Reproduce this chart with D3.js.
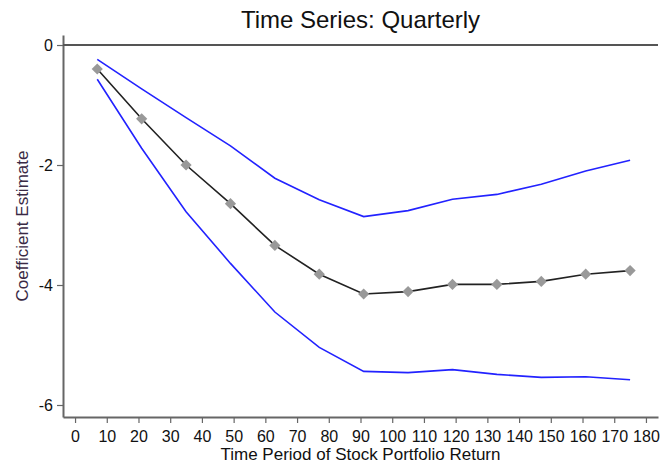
<!DOCTYPE html>
<html>
<head>
<meta charset="utf-8">
<script src="https://cdn.jsdelivr.net/npm/d3@7"></script>
<style>
  body { margin: 0; background: #fff; }
  text { font-family: "Liberation Sans", Arial, sans-serif; }
</style>
</head>
<body>
<div id="chart"></div>
<script>
// horizon in months, estimate and 95% bands
var periods = [7, 21, 35, 49, 63, 77, 91, 105, 119, 133, 147, 161, 175];
var estimate = [-0.40, -1.23, -2.00, -2.645, -3.34, -3.82, -4.15, -4.11, -3.99, -3.99, -3.94, -3.82, -3.76];
var upperBand = [-0.24, -0.73, -1.21, -1.68, -2.22, -2.58, -2.86, -2.76, -2.57, -2.49, -2.32, -2.10, -1.92];
var lowerBand = [-0.57, -1.72, -2.78, -3.64, -4.45, -5.04, -5.44, -5.46, -5.41, -5.49, -5.54, -5.53, -5.58];
var xTicks = d3.range(0, 181, 10);
var yTicks = [0, -2, -4, -6];

var width = 662, height = 468;
var margin = {top: 35, right: 4, bottom: 51, left: 63};

var svg = d3.select("#chart").append("svg")
    .attr("width", width)
    .attr("height", height);

var x = d3.scaleLinear().domain([-3.8, 183.8]).range([margin.left, width - margin.right]);
var y = d3.scaleLinear().domain([0.167, -6.2]).range([margin.top, height - margin.bottom]);

// title
svg.append("text")
    .attr("x", (margin.left + width - margin.right) / 2)
    .attr("y", 28)
    .attr("text-anchor", "middle")
    .attr("font-size", "24px")
    .attr("fill", "#111")
    .text("Time Series: Quarterly");

// axes
var fmt = function(d) { return String(d); };
var xAxis = svg.append("g")
    .attr("transform", "translate(0," + (height - margin.bottom) + ")")
    .call(d3.axisBottom(x).tickValues(xTicks).tickFormat(fmt).tickSize(6).tickPadding(8).tickSizeOuter(0));
var yAxis = svg.append("g")
    .attr("transform", "translate(" + margin.left + ",0)")
    .call(d3.axisLeft(y).tickValues(yTicks).tickFormat(fmt).tickSize(6).tickPadding(4).tickSizeOuter(0));

[xAxis, yAxis].forEach(function(ax){
    ax.select(".domain").attr("stroke", "#666").attr("stroke-width", 2);
    ax.selectAll(".tick line").attr("stroke", "#666").attr("stroke-width", 1.2);
    ax.selectAll(".tick text")
        .attr("font-size", "16px")
        .attr("fill", "#111")
        .style("font-family", "Liberation Sans, Arial, sans-serif");
});

// zero reference line
svg.append("line")
    .attr("x1", margin.left).attr("x2", width - margin.right)
    .attr("y1", y(0)).attr("y2", y(0))
    .attr("stroke", "#555")
    .attr("stroke-width", 2);

// axis titles
svg.append("text")
    .attr("x", x(90))
    .attr("y", 460)
    .attr("text-anchor", "middle")
    .attr("font-size", "17px")
    .attr("fill", "#111")
    .text("Time Period of Stock Portfolio Return");

svg.append("text")
    .attr("transform", "translate(28," + ((margin.top + height - margin.bottom) / 2) + ") rotate(-90)")
    .attr("text-anchor", "middle")
    .attr("font-size", "17px")
    .attr("fill", "#3a2a45")
    .text("Coefficient Estimate");

var line = d3.line()
    .x(function(d) { return x(d[0]); })
    .y(function(d) { return y(d[1]); });

function pairs(vals) {
    return periods.map(function(p, i) { return [p, vals[i]]; });
}

svg.append("path")
    .datum(pairs(upperBand))
    .attr("d", line)
    .attr("fill", "none")
    .attr("stroke", "#2222ff")
    .attr("stroke-width", 1.6);

svg.append("path")
    .datum(pairs(lowerBand))
    .attr("d", line)
    .attr("fill", "none")
    .attr("stroke", "#2222ff")
    .attr("stroke-width", 1.6);

svg.append("path")
    .datum(pairs(estimate))
    .attr("d", line)
    .attr("fill", "none")
    .attr("stroke", "#222")
    .attr("stroke-width", 1.6);

svg.selectAll(".marker")
    .data(pairs(estimate))
    .enter()
    .append("path")
    .attr("class", "marker")
    .attr("d", d3.symbol().type(d3.symbolDiamond2).size(80))
    .attr("transform", function(d) { return "translate(" + x(d[0]) + "," + y(d[1]) + ")"; })
    .attr("fill", "#999");
</script>
</body>
</html>
